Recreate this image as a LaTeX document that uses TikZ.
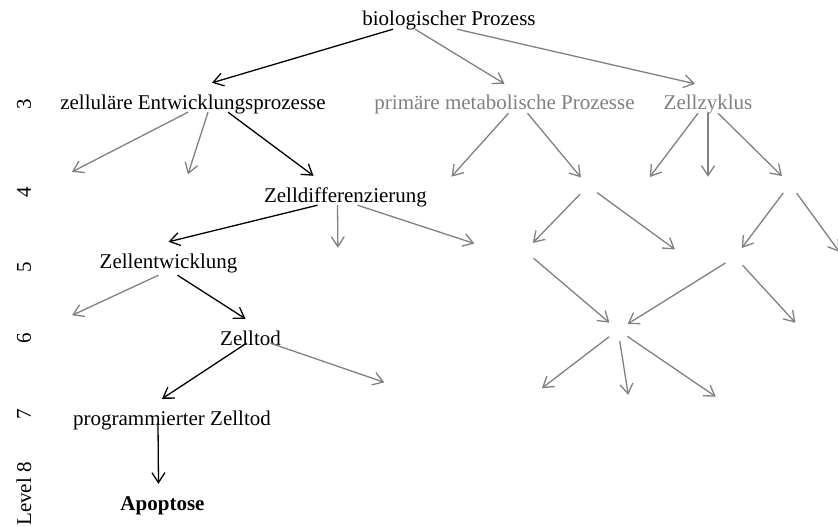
\documentclass[tikz,border=0pt]{standalone}
\usepackage{fontspec}
\setmainfont{Liberation Serif}
\usetikzlibrary{arrows.meta}

\begin{document}
\begin{tikzpicture}[x=1pt, y=-1pt, font=\fontsize{21}{25}\selectfont]
\tikzstyle{term} = [anchor=base, inner sep=3pt, text height=23pt, text depth=0pt]
\tikzstyle{hid} = [circle, minimum size=22pt, inner sep=0pt]
\tikzstyle{lvl} = [rotate=90]
\tikzstyle{line} = [draw, line width=1.3pt, -{Straight Barb[length=10pt, width=13pt]}]
\tikzstyle{greyline} = [line, gray]

\useasboundingbox (0,0) rectangle (838,527);

% level axis
\node [lvl] (l3) at (24,104) {3};
\node [lvl] (l4) at (24,192) {4};
\node [lvl] (l5) at (24,267) {5};
\node [lvl] (l6) at (24,338) {6};
\node [lvl] (l7) at (24,414) {7};
\node [lvl] (l8) at (24,494) {Level 8};

% terms
\node [term] (bio) at (449,26) {biologischer Prozess};
\node [term] (zellEntw) at (193,109) {zelluläre Entwicklungsprozesse};
\node [term, gray] (primaer) at (504.5,110) {primäre metabolische Prozesse};
\node [term, gray] (zyklus) at (708,110) {Zellzyklus};
\node [term] (zdiff) at (345.5,202) {Zelldifferenzierung};
\node [term] (zentw) at (168.5,268) {Zellentwicklung};
\node [term] (ztod) at (250.5,345) {Zelltod};
\node [term] (prog) at (172,425) {programmierter Zelltod};
\node [term] (apop) at (162.5,510) {\bfseries Apoptose};

% unlabelled terms
\node [hid] (zeA) at (62,177) {};
\node [hid] (zeB) at (184.5,185) {};
\node [hid] (pmA) at (444,185) {};
\node [hid] (pmB) at (588,186) {};
\node [hid] (zzA) at (643,186) {};
\node [hid] (zzB) at (708,188) {};
\node [hid] (zzC) at (790,184) {};
\node [hid] (zdA) at (338,259) {};
\node [hid] (zdB) at (485,247) {};
\node [hid] (pmBA) at (525,251) {};
\node [hid] (pmBB) at (684,256) {};
\node [hid] (zzCA) at (735,257) {};
\node [hid] (zzCB) at (846,261) {};
\node [hid] (zwA) at (62,320) {};
\node [hid] (mid) at (618,330) {};
\node [hid] (zzCAB) at (803,331) {};
\node [hid] (ztA) at (395,386) {};
\node [hid] (midA) at (533,395) {};
\node [hid] (midB) at (630,406) {};
\node [hid] (midC) at (725,403) {};

% path to Apoptose
\path [line] ([xshift=-56pt]bio.south) -- ([xshift=19pt]zellEntw.north);
\path [line] ([xshift=35pt]zellEntw.south) -- ([xshift=-32pt]zdiff.north);
\path [line] ([xshift=-28pt]zdiff.south) -- (zentw.north);
\path [line] ([xshift=9pt, yshift=-4pt]zentw.south) -- ([xshift=-5pt]ztod.north);
\path [line] ([xshift=-4pt, yshift=5pt]ztod.south) -- ([xshift=-10pt]prog.north);
\path [line] ([xshift=-14pt, yshift=5pt]prog.south) -- ([xshift=-4pt]apop.north);

% other edges
\path [greyline] ([xshift=-34pt]bio.south) -- (primaer.north);
\path [greyline] ([xshift=8pt]bio.south) -- ([xshift=-13pt]zyklus.north);
\path [greyline] ([xshift=-5pt]zellEntw.south) -- (zeA);
\path [greyline] ([xshift=15pt]zellEntw.south) -- (zeB);
\path [greyline] ([xshift=4pt]primaer.south) -- (pmA);
\path [greyline] ([xshift=23pt]primaer.south) -- (pmB);
\path [greyline] ([xshift=-10pt]zyklus.south) -- (zzA);
\path [greyline] (zyklus.south) -- (zzB);
\path [greyline] ([xshift=10pt]zyklus.south) -- (zzC);
\path [greyline] ([xshift=-8pt]zdiff.south) -- (zdA);
\path [greyline] ([xshift=12pt]zdiff.south) -- (zdB);
\path [greyline] (pmB) -- (pmBA);
\path [greyline] (pmB) -- (pmBB);
\path [greyline] (zzC) -- (zzCA);
\path [greyline] (zzC) -- (zzCB);
\path [greyline] (pmBA) -- (mid);
\path [greyline] (zzCA) -- (mid);
\path [greyline] (zzCA) -- (zzCAB);
\path [greyline] ([xshift=-10pt, yshift=-4pt]zentw.south) -- (zwA);
\path [greyline] ([xshift=20pt, yshift=5pt]ztod.south) -- (ztA);
\path [greyline] (mid) -- (midA);
\path [greyline] (mid) -- (midB);
\path [greyline] (mid) -- (midC);

\end{tikzpicture}
\end{document}
